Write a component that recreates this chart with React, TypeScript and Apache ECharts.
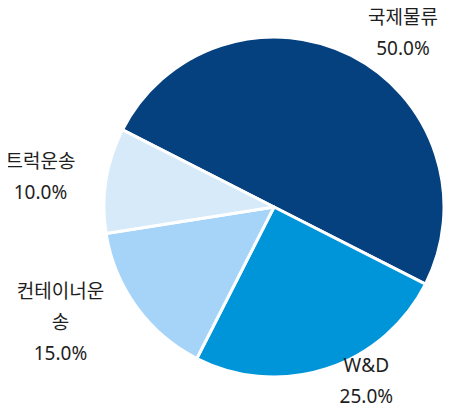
import React, { useEffect, useRef } from "react";
import * as echarts from "echarts";

const categories = ["국제물류", "W&D", "컨테이너운송", "트럭운송"];
const values = [50, 25, 15, 10];
const colors = ["#06417f", "#0095d9", "#a6d4f9", "#d6eafa"];

const LABEL_MAX_WIDTH = 100;
const FONT_FAMILY = '"Noto Sans", "Noto Sans CJK KR", sans-serif';
const FONT_SIZE = 19;

let measureCtx: CanvasRenderingContext2D | null = null;
function textWidth(s: string): number {
  if (!measureCtx) {
    measureCtx = document.createElement("canvas").getContext("2d");
  }
  if (!measureCtx) return s.length * FONT_SIZE;
  measureCtx.font = `${FONT_SIZE}px ${FONT_FAMILY}`;
  return measureCtx.measureText(s).width;
}

export default function App() {
  const ref = useRef<HTMLDivElement>(null);
  useEffect(() => {
    if (!ref.current) return;
    const chart = echarts.init(ref.current, null, { renderer: "svg" });
    chart.setOption({
      animation: false,
      backgroundColor: "#ffffff",
      series: [
        {
          type: "pie",
          center: [274, 207],
          radius: 170,
          startAngle: 153,
          clockwise: true,
          data: categories.map((c, i) => ({
            name: c,
            value: values[i],
            itemStyle: { color: colors[i] },
          })),
          itemStyle: { borderColor: "#ffffff", borderWidth: 3 },
          label: {
            show: true,
            position: "outside",
            width: LABEL_MAX_WIDTH,
            overflow: "break",
            bleedMargin: -40,
            formatter: (p: any) => `${p.name}\n${p.percent.toFixed(1)}%`,
            fontSize: FONT_SIZE,
            lineHeight: 31,
            color: "#1e1e1e",
            fontFamily: FONT_FAMILY,
          },
          labelLine: { show: false, length: 26, length2: 0 },
          labelLayout: (p: any) => {
            const lines = String(p.text || "").split("\n");
            let w = 0;
            lines.forEach((l) => {
              w = Math.max(w, textWidth(l));
            });
            w = Math.min(w, LABEL_MAX_WIDTH);
            return {
              align: "center",
              dx: p.align === "left" ? w / 2 : -w / 2,
            };
          },
        },
      ],
    });
    return () => chart.dispose();
  }, []);
  return <div ref={ref} style={{ width: 454, height: 412, margin: -8 }} />;
}
